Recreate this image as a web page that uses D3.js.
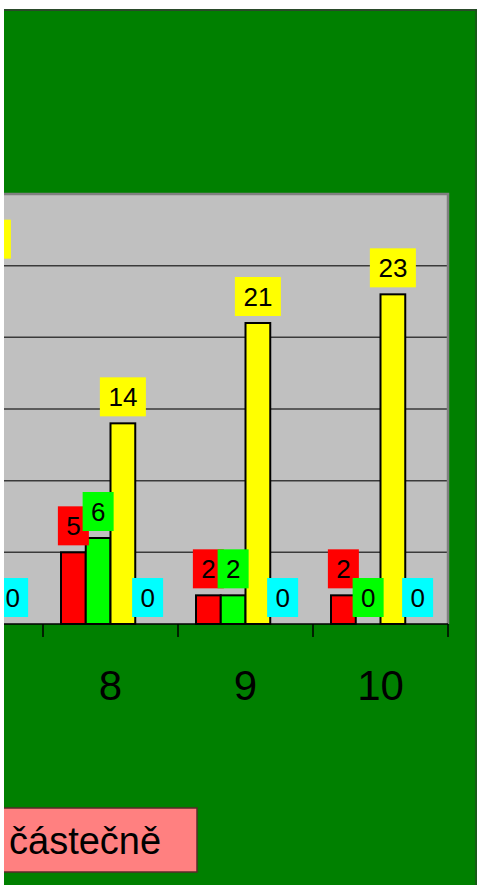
<!DOCTYPE html>
<html>
<head>
    <meta charset="utf-8">
    <title>chart</title>
    <script type="text/javascript" src="https://d3js.org/d3.v7.min.js"></script>
    <style>
      body { margin:0; background:#ffffff; }
      svg { display:block; }
      text { font-family: Arial, "Liberation Sans", sans-serif; }
    </style>
</head>
<body>
<script type="text/javascript">

        // values (category 7 is cut off on the left)
        var categories = ["7", "8", "9", "10"]
        var seriesKeys = ["s1", "s2", "s3", "s4"]
        var seriesColors = ["#ff0000", "#00ff00", "#ffff00", "#00ffff"]
        var s1Values = [3, 5, 2, 2]
        var s2Values = [4, 6, 2, 0]
        var s3Values = [25, 14, 21, 23]
        var s4Values = [0, 0, 0, 0]
        var yTicks = [0, 5, 10, 15, 20, 25, 30]
        var legendLabels = ["částečně"]

        var width = 477
        var height = 885
        var visibleLeft = 4

        var svg = d3.select("body").append("svg").attr("width", width).attr("height", height)

        // chart area (left side is cropped)
        svg.append("clipPath").attr("id", "area")
            .append("rect").attr("x", visibleLeft).attr("y", 9).attr("width", 473).attr("height", 880)

        svg.append("rect")
            .attr("x", visibleLeft).attr("y", 9).attr("width", 473).attr("height", 880)
            .attr("fill", "#008000")
        svg.append("line").attr("x1", visibleLeft).attr("x2", 477).attr("y1", 10).attr("y2", 10)
            .attr("stroke", "#2a4a2a").attr("stroke-width", 2)
        svg.append("line").attr("x1", 476).attr("x2", 476).attr("y1", 9).attr("y2", 885)
            .attr("stroke", "#1f4f1f").attr("stroke-width", 1.5)

        var g = svg.append("g").attr("clip-path", "url(#area)")

        var x = d3.scaleBand().domain(categories).range([-92, 448])
        var xs = d3.scaleBand().domain(seriesKeys).range([18, x.bandwidth() - 18])
        var y = d3.scaleLinear().domain([0, 30]).range([624, 194])

        var plotLeft = -92, plotRight = 448

        // plot area
        g.append("rect")
            .attr("x", plotLeft).attr("y", y(30))
            .attr("width", plotRight - plotLeft).attr("height", y(0) - y(30))
            .attr("fill", "#c0c0c0")

        g.append("g").selectAll("line")
            .data(yTicks.filter(function(d){ return d > 0 && d < 30 }))
            .enter().append("line")
            .attr("x1", plotLeft).attr("x2", plotRight)
            .attr("y1", function(d){ return y(d) }).attr("y2", function(d){ return y(d) })
            .attr("stroke", "#3a3a3a").attr("stroke-width", 1.5)

        // plot border (top and right visible)
        g.append("path")
            .attr("d", "M" + plotLeft + "," + y(30) + "H" + plotRight + "V" + y(0))
            .attr("fill", "none").attr("stroke", "#808080").attr("stroke-width", 2.5)

        var allValues = [s1Values, s2Values, s3Values, s4Values]
        var rows = []
        categories.forEach(function(c, i){
            seriesKeys.forEach(function(k, j){
                rows.push({cat: c, key: k, value: allValues[j][i], color: seriesColors[j]})
            })
        })

        // bars
        g.append("g").selectAll("rect")
            .data(rows)
            .enter().append("rect")
            .attr("x", function(d){ return x(d.cat) + xs(d.key) })
            .attr("y", function(d){ return y(d.value) })
            .attr("width", xs.bandwidth())
            .attr("height", function(d){ return y(0) - y(d.value) })
            .attr("fill", function(d){ return d.color })
            .attr("stroke", "#000").attr("stroke-width", 2)

        // axis
        g.append("line")
            .attr("x1", plotLeft).attr("x2", plotRight).attr("y1", y(0)).attr("y2", y(0))
            .attr("stroke", "#000").attr("stroke-width", 1.5)
        var tickXs = categories.map(function(c){ return x(c) }).concat([plotRight])
        g.append("g").selectAll("line")
            .data(tickXs)
            .enter().append("line")
            .attr("x1", function(d){ return d }).attr("x2", function(d){ return d })
            .attr("y1", y(0)).attr("y2", y(0) + 13)
            .attr("stroke", "#000").attr("stroke-width", 1.5)

        // category labels; the one that falls fully outside the crop is not drawn
        g.append("g").selectAll("text")
            .data(categories.filter(function(c){ return x(c) + x.bandwidth() / 2 + 20 > visibleLeft }))
            .enter().append("text")
            .attr("x", function(d){ return x(d) + x.bandwidth() / 2 })
            .attr("y", 700)
            .attr("text-anchor", "middle")
            .attr("font-size", 42)
            .attr("fill", "#000")
            .text(function(d){ return d })

        // data labels with coloured boxes
        var labels = g.append("g").selectAll("g")
            .data(rows)
            .enter().append("g")
            .attr("transform", function(d){
                return "translate(" + (x(d.cat) + xs(d.key) + xs.bandwidth() / 2) + "," + (y(d.value) - 7) + ")"
            })
        labels.each(function(d){
            var lg = d3.select(this)
            var cx = x(d.cat) + xs(d.key) + xs.bandwidth() / 2
            var w = String(d.value).length > 1 ? 46 : 31
            if (cx + w / 2 <= visibleLeft) return
            lg.append("rect")
                .attr("x", -w / 2).attr("y", -39).attr("width", w).attr("height", 39)
                .attr("fill", d.color)
            // only draw the number when it lands inside the crop
            if (cx - w / 2 + 8 < visibleLeft - 2 && cx + w / 2 - 8 < visibleLeft + 2) return
            lg.append("text")
                .attr("x", 0).attr("y", -10)
                .attr("text-anchor", "middle")
                .attr("font-size", 26)
                .attr("fill", "#000")
                .text(d.value)
        })

        // legend (cut off on the left)
        var legend = g.append("g")
        legend.append("rect")
            .attr("x", -200).attr("y", 808).attr("width", 397).attr("height", 64)
            .attr("fill", "#ff8080").attr("stroke", "#5a2a2a").attr("stroke-width", 1.5)
        legend.selectAll("text")
            .data(legendLabels)
            .enter().append("text")
            .attr("x", 9).attr("y", 854)
            .attr("font-size", 38)
            .attr("fill", "#000")
            .text(function(d){ return d })

</script>
</body>
</html>
